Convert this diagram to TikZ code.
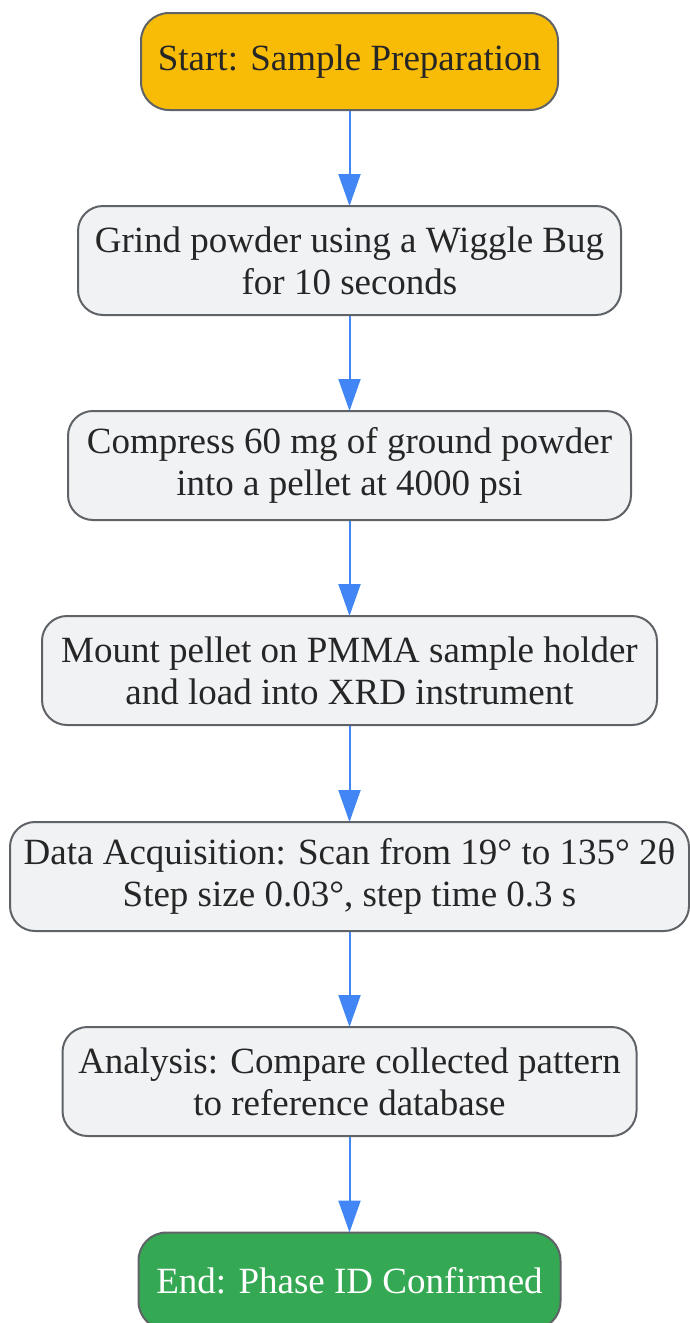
\documentclass[tikz,border=0pt]{standalone}
\usepackage{fontspec}
\setmainfont{Liberation Serif}
\usetikzlibrary{arrows.meta}
\definecolor{startc}{HTML}{F9BC06}
\definecolor{endc}{HTML}{34A853}
\definecolor{boxc}{HTML}{F1F2F4}
\definecolor{edgec}{HTML}{5F6368}
\definecolor{arrc}{HTML}{4285F4}
\tikzset{
  box/.style={draw=edgec, line width=2pt, fill=boxc, rounded corners=25pt, align=center,
    inner sep=0pt, minimum height=109pt, text=black!85,
    font=\fontsize{37}{42}\selectfont},
  term/.style={box, minimum height=97pt, rounded corners=28pt},
  flow/.style={draw=arrc, line width=2pt, -{Triangle[width=22pt,length=32pt]}, shorten >=-1pt}
}
\begin{document}
\begin{tikzpicture}[x=1pt,y=-1pt]
\useasboundingbox (0,0) rectangle (689,1323);
\node[term, fill=startc, minimum width=417pt] (s) at (349.5,61.5) {Start: Sample Preparation};
\node[box, minimum width=543pt] (g) at (349.5,260.5) {Grind powder using a Wiggle Bug\\for 10 seconds};
\node[box, minimum width=563pt] (c) at (349.5,465.5) {Compress 60 mg of ground powder\\into a pellet at 4000 psi};
\node[box, minimum width=615pt] (m) at (349.5,670.5) {Mount pellet on PMMA sample holder\\and load into XRD instrument};
\node[box, minimum width=679pt] (d) at (349.5,876.5) {Data Acquisition: Scan from 19° to 135° 2θ\\Step size 0.03°, step time 0.3 s};
\node[box, minimum width=574pt] (a) at (349.5,1081.5) {Analysis: Compare collected pattern\\to reference database};
\node[term, fill=endc, text=white, minimum width=422pt] (e) at (349.5,1281) {End: Phase ID Confirmed};
\draw[flow] (s) -- (g);
\draw[flow] (g) -- (c);
\draw[flow] (c) -- (m);
\draw[flow] (m) -- (d);
\draw[flow] (d) -- (a);
\draw[flow] (a) -- (e);
\end{tikzpicture}
\end{document}
